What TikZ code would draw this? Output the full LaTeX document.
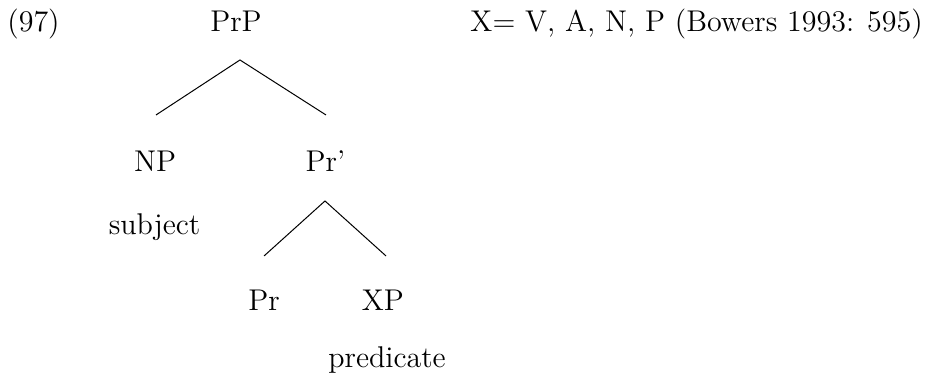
\documentclass[tikz,border=0pt]{standalone}
\begin{document}
\begin{tikzpicture}[
    cat/.style={font=\fontsize{12}{14.4}\selectfont, anchor=base, inner sep=0pt},
    gl/.style={font=\fontsize{12}{14.4}\selectfont, anchor=base, inner sep=0pt},
    br/.style={draw=black, line width=0.4pt}]
  \useasboundingbox (0,0) rectangle (13.367,5.383);

  % ---------- top row ------------------------------------------------------
  \node[cat] (num) at (0.471,4.941) {(97)};
  \node[cat] (prp) at (3.317,4.941) {PrP};
  \node[gl, anchor=base west] (note) at (6.606,4.941) {X= V, A, N, P (Bowers 1993: 595)};

  % ---------- PrP -> NP, Pr' -----------------------------------------------
  \coordinate (prp-t) at (3.373,4.540);
  \coordinate (np-t)  at (2.193,3.767);
  \coordinate (prb-t) at (4.582,3.767);
  \draw[br] (np-t) -- (prp-t) -- (prb-t);
  \node[cat] (np)  at (2.179,2.966) {NP};
  \node[cat] (prb) at (4.575,2.966) {Pr'};
  \node[gl]  (subj) at (2.172,2.080) {subject};

  % ---------- Pr' -> Pr, XP ------------------------------------------------
  \coordinate (prb-b) at (4.568,2.558);
  \coordinate (pr-t)  at (3.711,1.785);
  \coordinate (xp-t)  at (5.426,1.785);
  \draw[br] (pr-t) -- (prb-b) -- (xp-t);
  \node[cat] (pr) at (3.711,1.012) {Pr};
  \node[cat] (xp) at (5.383,1.012) {XP};
  \node[gl]  (pred) at (5.440,0.211) {predicate};
\end{tikzpicture}
\end{document}
